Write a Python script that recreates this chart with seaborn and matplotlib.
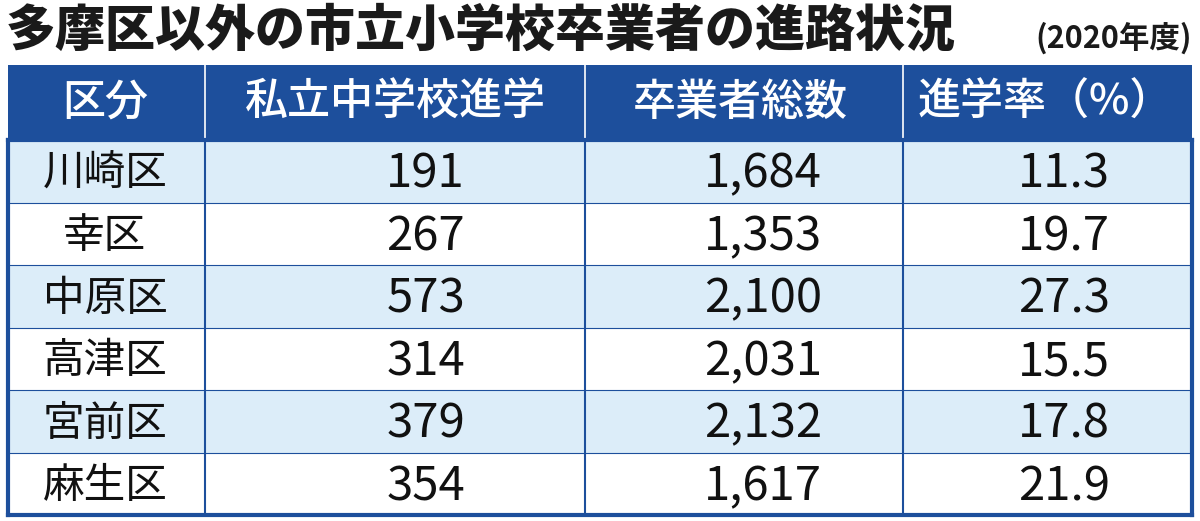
import matplotlib
matplotlib.use("Agg")
import matplotlib.pyplot as plt
from matplotlib.colors import ListedColormap
import seaborn as sns
import numpy as np

sns.set_theme(style="white")
plt.rcParams['font.family'] = ['Noto Sans CJK JP', 'DejaVu Sans']

title = "多摩区以外の市立小学校卒業者の進路状況"
subtitle = "(2020年度)"
headers = ["区分", "私立中学校進学", "卒業者総数", "進学率（%）"]
wards = ["川崎区", "幸区", "中原区", "高津区", "宮前区", "麻生区"]
private = [191, 267, 573, 314, 379, 354]
graduates = [1684, 1353, 2100, 2031, 2132, 1617]
rate = [11.3, 19.7, 27.3, 15.5, 17.8, 21.9]

W, H = 1200, 521
navy = "#1d4f9c"
light = "#dcedf9"
fig = plt.figure(figsize=(W / 100, H / 100), dpi=100)
fig.patch.set_facecolor("white")

x0, x1 = 8, 1192
seps = [205, 585, 903]
def fx(px):
    return (px - x0) / (x1 - x0)

# header
hax = fig.add_axes([x0 / W, 1 - 140 / H, (x1 - x0) / W, 75 / H])
sns.heatmap(np.zeros((1, 1)), ax=hax, cmap=ListedColormap([navy]), cbar=False,
            xticklabels=False, yticklabels=False)
hcent = [105, 395, 740, 1045]
for c, t in zip(hcent, headers):
    hax.text(fx(c), 0.5, t, color="white", fontsize=31, fontweight="medium",
             ha="center", va="center")
for s in seps:
    hax.axvline(fx(s), color="white", lw=1.2)

# body rows
bax = fig.add_axes([x0 / W, 1 - 515 / H, (x1 - x0) / W, 375 / H])
stripe = np.array([[i % 2] for i in range(len(wards))])
sns.heatmap(stripe, ax=bax, cmap=ListedColormap([light, "white"]), cbar=False,
            xticklabels=False, yticklabels=False, linewidths=0)
for i, w in enumerate(wards):
    y = i + 0.55
    bax.text(fx(105), y, w, fontsize=30, ha="center", va="center", color="#111")
    bax.text(fx(465), y, f"{private[i]}", fontsize=34, ha="right", va="center", color="#111")
    bax.text(fx(822), y, f"{graduates[i]:,}", fontsize=34, ha="right", va="center", color="#111")
    bax.text(fx(1110), y, f"{rate[i]}", fontsize=34, ha="right", va="center", color="#111")
for s in seps:
    bax.axvline(fx(s), color=navy, lw=1.5)
for i in range(1, len(wards)):
    bax.axhline(i, color=navy, lw=0.8)
for sp in bax.spines.values():
    sp.set_visible(True)
    sp.set_color(navy)
    sp.set_linewidth(3)

fig.text(6 / W, 1 - 30 / H, title, fontsize=36, fontweight="black", color="#1a1a1a",
         ha="left", va="center")
fig.text(1192 / W, 1 - 38 / H, subtitle, fontsize=22, fontweight="bold", color="#1a1a1a",
         ha="right", va="center")

fig.savefig("out.png", dpi=100, facecolor="white")
